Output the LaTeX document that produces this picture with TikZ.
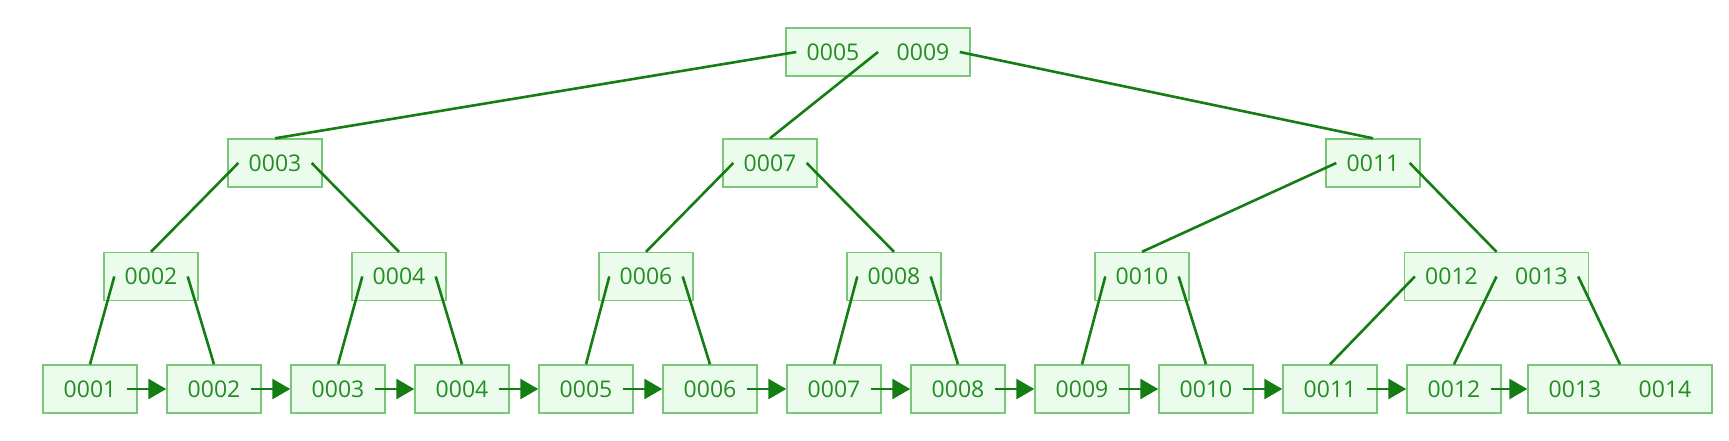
\documentclass[tikz,border=0pt]{standalone}
\usepackage{fontspec}
\setmainfont{Open Sans}
\usepackage{xcolor}
\usepackage{tikz}
\usetikzlibrary{arrows.meta}

\definecolor{boxline}{RGB}{120,200,120}
\definecolor{boxfill}{RGB}{236,252,236}
\definecolor{edge}{RGB}{20,125,20}
\definecolor{keytext}{RGB}{35,140,35}
\newcommand{\keyfont}{\fontsize{11.5}{14}\selectfont}

\begin{document}
\begin{tikzpicture}[
  x=0.5pt, y=-0.5pt,
  >={Triangle[length=9pt,width=10pt]},
  bnode/.style={draw=boxline, fill=boxfill, line width=0.7pt,
                minimum height=24pt, minimum width=#1, inner sep=0pt},
  bnode/.default=47pt,
  key/.style={text=keytext, font=\keyfont, inner xsep=5pt, inner ysep=0pt},
  link/.style={draw=edge, line width=1.3pt},
  nxt/.style={->, draw=edge, line width=1.3pt},
]
\useasboundingbox (0,0) rectangle (1729,440);
%% Root
\node[bnode=92pt] (root) at (878,52) {};
\node[key] (rk5) at (833,52) {0005};
\node[key] (rk9) at (923,52) {0009};
%% Level 2
\node[bnode] (n3) at (275,163) {};
\node[key] (k3) at (n3) {0003};
\node[bnode] (n7) at (770,163) {};
\node[key] (k7) at (n7) {0007};
\node[bnode] (n11) at (1373,163) {};
\node[key] (k11) at (n11) {0011};
%% Level 3
\node[bnode] (n2) at (151,276.5) {};
\node[key] (k2) at (n2) {0002};
\node[bnode] (n4) at (399,276.5) {};
\node[key] (k4) at (n4) {0004};
\node[bnode] (n6) at (646,276.5) {};
\node[key] (k6) at (n6) {0006};
\node[bnode] (n8) at (894,276.5) {};
\node[key] (k8) at (n8) {0008};
\node[bnode] (n10) at (1142,276.5) {};
\node[key] (k10) at (n10) {0010};
\node[bnode=92pt] (n12) at (1496.5,276.5) {};
\node[key] (k12) at (1451.5,276.5) {0012};
\node[key] (k13) at (1541.5,276.5) {0013};
%% Leaves
\node[bnode] (l1) at (90,389) {};
\node[key] (lk1) at (l1) {0001};
\node[bnode] (l2) at (214,389) {};
\node[key] (lk2) at (l2) {0002};
\node[bnode] (l3) at (338,389) {};
\node[key] (lk3) at (l3) {0003};
\node[bnode] (l4) at (462,389) {};
\node[key] (lk4) at (l4) {0004};
\node[bnode] (l5) at (586,389) {};
\node[key] (lk5) at (l5) {0005};
\node[bnode] (l6) at (710,389) {};
\node[key] (lk6) at (l6) {0006};
\node[bnode] (l7) at (834,389) {};
\node[key] (lk7) at (l7) {0007};
\node[bnode] (l8) at (958,389) {};
\node[key] (lk8) at (l8) {0008};
\node[bnode] (l9) at (1082,389) {};
\node[key] (lk9) at (l9) {0009};
\node[bnode] (l10) at (1206,389) {};
\node[key] (lk10) at (l10) {0010};
\node[bnode] (l11) at (1330,389) {};
\node[key] (lk11) at (l11) {0011};
\node[bnode] (l12) at (1454,389) {};
\node[key] (lk12) at (l12) {0012};
\node[bnode=92pt] (l13) at (1620,389) {};
\node[key] (lk13) at (1575,389) {0013};
\node[key] (lk14) at (1665,389) {0014};
%% Child pointers
\draw[link] (rk5.west) -- (n3.north);
\draw[link] (root.center) -- (n7.north);
\draw[link] (rk9.east) -- (n11.north);
\draw[link] (k3.west) -- (n2.north);
\draw[link] (k3.east) -- (n4.north);
\draw[link] (k7.west) -- (n6.north);
\draw[link] (k7.east) -- (n8.north);
\draw[link] (k11.west) -- (n10.north);
\draw[link] (k11.east) -- (n12.north);
\draw[link] (k2.west) -- (l1.north);
\draw[link] (k2.east) -- (l2.north);
\draw[link] (k4.west) -- (l3.north);
\draw[link] (k4.east) -- (l4.north);
\draw[link] (k6.west) -- (l5.north);
\draw[link] (k6.east) -- (l6.north);
\draw[link] (k8.west) -- (l7.north);
\draw[link] (k8.east) -- (l8.north);
\draw[link] (k10.west) -- (l9.north);
\draw[link] (k10.east) -- (l10.north);
\draw[link] (k12.west) -- (l11.north);
\draw[link] (n12.center) -- (l12.north);
\draw[link] (k13.east) -- (l13.north);
%% Leaf chain
\draw[nxt] (lk1.east) -- (l2.west);
\draw[nxt] (lk2.east) -- (l3.west);
\draw[nxt] (lk3.east) -- (l4.west);
\draw[nxt] (lk4.east) -- (l5.west);
\draw[nxt] (lk5.east) -- (l6.west);
\draw[nxt] (lk6.east) -- (l7.west);
\draw[nxt] (lk7.east) -- (l8.west);
\draw[nxt] (lk8.east) -- (l9.west);
\draw[nxt] (lk9.east) -- (l10.west);
\draw[nxt] (lk10.east) -- (l11.west);
\draw[nxt] (lk11.east) -- (l12.west);
\draw[nxt] (lk12.east) -- (l13.west);
\end{tikzpicture}
\end{document}
